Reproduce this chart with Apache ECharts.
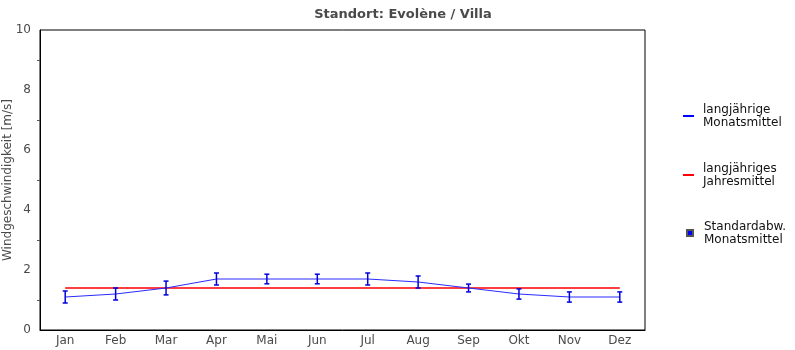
<!DOCTYPE html>
<html>
<head>
<meta charset="utf-8">
<script src="https://cdn.jsdelivr.net/npm/echarts@6/dist/echarts.min.js"></script>
<style>
  html, body { margin: 0; padding: 0; background: #fff; }
  #chart { width: 795px; height: 350px; }
</style>
</head>
<body>
<div id="chart"></div>
<script>
// Monthly wind speed at the station, long-term means and standard deviations
const months = ['Jan', 'Feb', 'Mar', 'Apr', 'Mai', 'Jun', 'Jul', 'Aug', 'Sep', 'Okt', 'Nov', 'Dez'];
const monthlyMean = [1.1, 1.2, 1.4, 1.7, 1.7, 1.7, 1.7, 1.6, 1.4, 1.2, 1.1, 1.1];
const monthlyStd = [0.2, 0.2, 0.23, 0.2, 0.16, 0.16, 0.2, 0.2, 0.13, 0.17, 0.17, 0.17];
const annualMean = 1.4;
const yTicks = [0, 2, 4, 6, 8, 10];

const FONT = 'DejaVu Sans';
const TEXT = '#4a4a4a';

const annualLine = months.map(() => annualMean);
const errorData = months.map((m, i) => [i, monthlyMean[i] - monthlyStd[i], monthlyMean[i] + monthlyStd[i]]);

const NAME_MONTH = 'langjährige\nMonatsmittel';
const NAME_YEAR = 'langjähriges\nJahresmittel';
const NAME_STD = 'Standardabw.\nMonatsmittel';

function legendBlock(name, left, top, icon, w, h, textPad) {
  return {
    data: [{ name: name, icon: icon }],
    left: left,
    top: top,
    padding: 0,
    orient: 'vertical',
    itemWidth: w,
    itemHeight: h,
    selectedMode: false,
    textStyle: {
      fontFamily: FONT, fontSize: 12, color: '#111', lineHeight: 13,
      padding: [0, 0, 0, textPad]
    }
  };
}

const chart = echarts.init(document.getElementById('chart'), null, { renderer: 'canvas' });

chart.setOption({
  animation: false,
  backgroundColor: '#fff',
  title: {
    text: 'Standort: Evolène / Villa',
    left: 398,
    textAlign: 'center',
    top: 3,
    textStyle: { fontFamily: FONT, fontSize: 13, fontWeight: 'bold', color: TEXT }
  },
  legend: [
    legendBlock(NAME_MONTH, 683, 103, 'rect', 11, 2, 4),
    legendBlock(NAME_YEAR, 683, 162, 'rect', 11, 2, 4),
    legendBlock(NAME_STD, 686, 220, 'rect', 6, 6, 6)
  ],
  grid: {
    left: 40, right: 150, top: 30, bottom: 20,
    outerBoundsMode: 'none',
    containLabel: false,
    show: true, borderColor: '#000', borderWidth: 1, backgroundColor: 'transparent'
  },
  xAxis: {
    type: 'category',
    data: months,
    boundaryGap: true,
    axisLine: { lineStyle: { color: '#000', width: 1 } },
    axisTick: { alignWithLabel: true, inside: true, length: 5, lineStyle: { color: '#555' } },
    axisLabel: { fontFamily: FONT, fontSize: 12, color: TEXT, margin: 5 },
    splitLine: { show: false }
  },
  yAxis: {
    type: 'value',
    min: yTicks[0],
    max: yTicks[yTicks.length - 1],
    interval: 2,
    name: 'Windgeschwindigkeit [m/s]',
    nameLocation: 'middle',
    nameGap: 26,
    nameMoveOverlap: false,
    nameTextStyle: { fontFamily: FONT, fontSize: 12, color: TEXT },
    axisLine: { show: true, lineStyle: { color: '#000', width: 1 } },
    axisTick: { show: false },
    minorTick: { show: true, splitNumber: 2, length: 3, lineStyle: { color: '#555' } },
    axisLabel: { fontFamily: FONT, fontSize: 12, color: TEXT, margin: 9 },
    splitLine: { show: false },
    minorSplitLine: { show: false }
  },
  series: [
    {
      name: NAME_YEAR,
      type: 'line',
      data: annualLine,
      symbol: 'none',
      color: '#ff0000',
      lineStyle: { color: '#ff0000', width: 1.5 },
      z: 2
    },
    {
      name: NAME_MONTH,
      type: 'line',
      data: monthlyMean,
      symbol: 'none',
      color: '#0000ff',
      lineStyle: { color: '#2a2aff', width: 1 },
      z: 3
    },
    {
      name: NAME_STD,
      type: 'custom',
      data: errorData,
      color: '#0000ff',
      itemStyle: { color: '#0000ff', borderColor: '#555', borderWidth: 1 },
      encode: { x: 0, y: [1, 2] },
      renderItem: function (params, api) {
        const i = api.value(0);
        const lo = api.coord([i, api.value(1)]);
        const hi = api.coord([i, api.value(2)]);
        const half = 2.5;
        const style = { stroke: '#0000dd', lineWidth: 1.5, fill: null };
        return {
          type: 'group',
          children: [
            { type: 'line', shape: { x1: lo[0], y1: lo[1], x2: hi[0], y2: hi[1] }, style: style },
            { type: 'line', shape: { x1: lo[0] - half, y1: lo[1], x2: lo[0] + half, y2: lo[1] }, style: style },
            { type: 'line', shape: { x1: hi[0] - half, y1: hi[1], x2: hi[0] + half, y2: hi[1] }, style: style }
          ]
        };
      },
      z: 4
    }
  ]
});
</script>
</body>
</html>
